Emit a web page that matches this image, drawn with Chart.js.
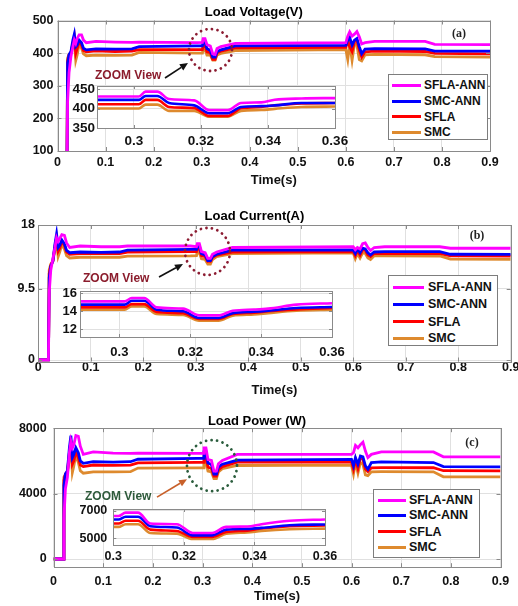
<!DOCTYPE html>
<html><head><meta charset="utf-8">
<script src="https://cdn.jsdelivr.net/npm/chart.js@4.4.1/dist/chart.umd.min.js"></script>
<style>
html,body{margin:0;padding:0;background:#fff;}
body{width:518px;height:606px;overflow:hidden;position:relative;font-family:"Liberation Sans",Arial,sans-serif;}
canvas{position:absolute;left:0;top:0;}
.lg{position:absolute;background:#fff;border:1px solid #7d7d7d;box-sizing:border-box;}
.lg .it{position:absolute;left:0;height:16px;line-height:16px;font-weight:bold;color:#111;white-space:nowrap;}
.lg .ln{position:absolute;height:3px;}
.zt{position:absolute;font-weight:bold;font-size:12px;height:14px;line-height:14px;white-space:nowrap;}
.pl{position:absolute;font-family:"Liberation Serif","Times New Roman",serif;font-weight:bold;font-size:12px;height:14px;line-height:14px;width:24px;text-align:center;color:#222;}
</style></head><body>
<canvas id="ma" width="560" height="606"></canvas>
<canvas id="mb" width="560" height="606"></canvas>
<canvas id="mc" width="560" height="606"></canvas>
<canvas id="ia" width="560" height="606"></canvas>
<canvas id="ib" width="560" height="606"></canvas>
<canvas id="ic" width="560" height="606"></canvas>
<div id="ovl"></div>
<script>
// ---------------- DATA ----------------
const SERIES = ['SFLA-ANN', 'SMC-ANN', 'SFLA', 'SMC'];
const COLORS = ['#ff00ff', '#0000ff', '#ff0000', '#de8a2e'];

const X_TICKS = [0, 0.1, 0.2, 0.3, 0.4, 0.5, 0.6, 0.7, 0.8, 0.9];
const X_TICK_LABELS = ['0', '0.1', '0.2', '0.3', '0.4', '0.5', '0.6', '0.7', '0.8', '0.9'];
const INSET_X_TICKS = [0.3, 0.32, 0.34, 0.36];
const INSET_X_LABELS = ['0.3', '0.32', '0.34', '0.36'];

// main time base (s)
const TIME = [0, 0.0195, 0.021, 0.024, 0.028, 0.032, 0.035, 0.038, 0.041, 0.045, 0.05, 0.054, 0.06, 0.08, 0.12, 0.155, 0.17, 0.29,
  0.3015, 0.303, 0.307, 0.311, 0.318, 0.323, 0.328, 0.332, 0.34, 0.37, 0.6, 0.604, 0.608, 0.613, 0.618, 0.623, 0.628, 0.633, 0.64, 0.66, 0.765, 0.785, 0.9];

// (a) Load Voltage (V)
const V_SFLA_ANN = [0, 0, 250, 340, 390, 420, 440, 430, 445, 456, 456, 440, 432, 436, 434, 433, 434, 432,
  433, 444, 444, 426, 422, 398, 396, 414, 420, 430, 432, 452, 465, 452, 458, 466, 450, 428, 432, 436, 436, 427, 426];
const V_SMC_ANN = [0, 0, 370, 395, 405, 440, 458, 420, 425, 440, 432, 415, 410, 413, 412, 413, 420, 422,
  422, 432, 432, 414, 408, 388, 388, 404, 410, 422, 424, 440, 448, 425, 440, 445, 420, 398, 412, 414, 413, 406, 406];
const V_SFLA = [0, 0, 375, 395, 402, 430, 450, 400, 415, 435, 425, 408, 404, 407, 405, 406, 411, 411,
  411, 422, 422, 404, 401, 381, 381, 401, 406, 416, 418, 438, 420, 405, 435, 440, 410, 388, 404, 406, 405, 399, 398];
const V_SMC = [0, 0, 385, 395, 400, 425, 440, 378, 395, 428, 415, 398, 392, 394, 393, 394, 402, 400,
  400, 410, 410, 394, 394, 379, 379, 394, 399, 408, 411, 380, 430, 378, 428, 425, 380, 376, 395, 396, 395, 389, 388];
const V_Y_TICKS = [100, 200, 300, 400, 500];
const V_Y_LABELS = ['100', '200', '300', '400', '500'];

// (b) Load Current (A)
const I_SFLA_ANN = [0, 0, 9, 12, 13.5, 15, 16.3, 15.8, 16.2, 16.7, 16.6, 15.6, 15.0, 15.2, 15.1, 15.1, 15.2, 15.2,
  15.1, 15.5, 15.5, 14.45, 14.3, 13.55, 13.55, 14.1, 14.4, 15.0, 15.1, 14.7, 15.0, 14.8, 15.5, 15.6, 15.0, 14.6, 15.0, 15.1, 15.1, 14.9, 14.9];
const I_SMC_ANN = [0, 0, 11, 12.5, 13.2, 15.5, 16.8, 15, 15.3, 16, 15.5, 14.6, 14.3, 14.4, 14.35, 14.4, 14.65, 14.74,
  14.74, 15.18, 15.18, 14.18, 14.0, 13.26, 13.26, 13.8, 14.1, 14.65, 14.67, 14.2, 14.8, 14.3, 14.9, 14.8, 14.3, 14.0, 14.4, 14.45, 14.44, 14.1, 14.08];
const I_SFLA = [0, 0, 11.5, 12.6, 13.2, 15.2, 16.3, 14.5, 14.9, 15.8, 15.3, 14.4, 14.1, 14.2, 14.2, 14.2, 14.4, 14.44,
  14.44, 14.8, 14.8, 13.93, 13.78, 13.15, 13.15, 13.7, 14.0, 14.4, 14.44, 13.9, 14.6, 14.0, 14.7, 14.6, 14.0, 13.8, 14.2, 14.2, 14.2, 13.9, 13.87];
const I_SMC = [0, 0, 12, 12.8, 13.2, 14.8, 15.9, 13.8, 14.4, 15.4, 14.8, 13.9, 13.6, 13.7, 13.7, 13.7, 13.85, 13.87,
  13.9, 14.3, 14.3, 13.5, 13.4, 12.8, 12.8, 13.4, 13.8, 14.2, 14.3, 13.5, 14.2, 13.6, 14.3, 14.2, 13.6, 13.4, 13.9, 13.9, 13.87, 13.45, 13.42];
const I_Y_TICKS = [0, 9.5, 18];
const I_Y_LABELS = ['0', '9.5', '18'];

// (c) Load Power (W)
const P_SFLA_ANN = [0, 0, 2500, 4300, 5000, 6500, 7200, 6800, 7000, 7550, 7500, 6900, 6400, 6550, 6480, 6460, 6480, 6460,
  6460, 6800, 6800, 6075, 6025, 5375, 5375, 5825, 6025, 6400, 6400, 6500, 6950, 6800, 7000, 7150, 6600, 6200, 6400, 6550, 6550, 6250, 6250];
const P_SMC_ANN = [0, 0, 4500, 5200, 5400, 6800, 7550, 6200, 6400, 6800, 6500, 6000, 5850, 5950, 5930, 5950, 6100, 6150,
  6150, 6550, 6550, 5875, 5775, 5200, 5200, 5625, 5800, 6050, 6090, 5700, 6200, 5800, 6300, 6250, 5700, 5500, 5900, 5940, 5900, 5650, 5640];
const P_SFLA = [0, 0, 4800, 5200, 5350, 6500, 7250, 5800, 6000, 6600, 6200, 5750, 5650, 5750, 5730, 5740, 5880, 5905,
  5905, 6250, 6250, 5625, 5525, 5075, 5075, 5450, 5650, 5920, 5940, 5500, 6100, 5550, 6200, 6100, 5500, 5350, 5580, 5590, 5580, 5400, 5390];
const P_SMC = [0, 0, 5000, 5150, 5250, 6200, 6950, 5300, 5700, 6350, 5900, 5400, 5250, 5330, 5330, 5340, 5560, 5575,
  5575, 5900, 5900, 5375, 5325, 4925, 4925, 5325, 5525, 5720, 5740, 5200, 5900, 5250, 5900, 5800, 5150, 5100, 5330, 5340, 5330, 5030, 5025];
const P_Y_TICKS = [0, 4000, 8000];
const P_Y_LABELS = ['0', '4000', '8000'];

// zoom insets (0.29 .. 0.36 s)
const TIME_ZOOM = [0.285, 0.3015, 0.3035, 0.307, 0.3105, 0.318, 0.3225, 0.328, 0.332, 0.338, 0.342, 0.35, 0.36];
const VZ_SFLA_ANN = [430.8, 430.8, 443.3, 443.3, 424.2, 420.8, 395.8, 395.8, 414.2, 415.8, 422.5, 425.8, 426.7];
const VZ_SMC_ANN = [422, 422, 432, 432, 414, 408, 388, 388, 404, 406, 408, 414, 414];
const VZ_SFLA = [411, 411, 422, 422, 404, 401, 381, 381, 401, 404, 408, 413, 414];
const VZ_SMC = [400, 400, 410, 410, 394, 394, 379, 379, 394, 396, 399, 404, 405];
const VZ_Y_TICKS = [350, 400, 450];
const VZ_Y_LABELS = ['350', '400', '450'];

const IZ_SFLA_ANN = [15.1, 15.1, 15.48, 15.48, 14.44, 14.3, 13.55, 13.55, 14.07, 14.2, 14.3, 14.74, 14.9];
const IZ_SMC_ANN = [14.74, 14.74, 15.18, 15.18, 14.18, 14.0, 13.26, 13.26, 13.8, 13.95, 14.07, 14.37, 14.48];
const IZ_SFLA = [14.44, 14.44, 14.8, 14.8, 13.93, 13.78, 13.15, 13.15, 13.7, 13.85, 14.0, 14.22, 14.37];
const IZ_SMC = [14.18, 14.18, 14.55, 14.55, 13.7, 13.6, 12.96, 12.96, 13.52, 13.65, 13.8, 14.07, 14.18];
const IZ_Y_TICKS = [12, 14, 16];
const IZ_Y_LABELS = ['12', '14', '16'];

const PZ_SFLA_ANN = [6625, 6625, 6875, 6875, 6075, 6025, 5375, 5375, 5825, 5850, 6025, 6275, 6375];
const PZ_SMC_ANN = [6375, 6375, 6575, 6575, 5875, 5775, 5200, 5200, 5625, 5680, 5750, 5950, 6000];
const PZ_SFLA = [6075, 6075, 6275, 6275, 5625, 5525, 5075, 5075, 5450, 5550, 5700, 5875, 5925];
const PZ_SMC = [5825, 5825, 6025, 6025, 5375, 5325, 4925, 4925, 5325, 5420, 5525, 5650, 5700];
const PZ_Y_TICKS = [5000, 7000];
const PZ_Y_LABELS = ['5000', '7000'];

// ---------------- RENDER ----------------
const CW = 560, CH = 606;
Chart.defaults.font.family = "'Liberation Sans', Arial, sans-serif";
Chart.defaults.color = '#111';

const bgPlugin = {
  id: 'bgArea',
  beforeDraw(chart) {
    const a = chart.chartArea, ctx = chart.ctx;
    ctx.save(); ctx.fillStyle = '#fff';
    ctx.fillRect(a.left, a.top, a.right - a.left, a.bottom - a.top);
    ctx.restore();
  }
};
const boxPlugin = {
  id: 'boxFrame',
  afterDatasetsDraw(chart, args, o) {
    const { ctx, chartArea: a, scales: { x, y } } = chart;
    const tl = o.tick || 4;
    ctx.save();
    ctx.strokeStyle = '#8a8a8a'; ctx.lineWidth = 1;
    ctx.beginPath();
    x.ticks.forEach(t => {
      const px = Math.round(x.getPixelForValue(t.value)) + 0.5;
      ctx.moveTo(px, a.bottom); ctx.lineTo(px, a.bottom - tl);
      ctx.moveTo(px, a.top); ctx.lineTo(px, a.top + tl);
    });
    y.ticks.forEach(t => {
      const py = Math.round(y.getPixelForValue(t.value)) + 0.5;
      ctx.moveTo(a.left, py); ctx.lineTo(a.left + tl, py);
      ctx.moveTo(a.right, py); ctx.lineTo(a.right - tl, py);
    });
    ctx.stroke();
    ctx.strokeRect(Math.round(a.left) + 0.5, Math.round(a.top) + 0.5, Math.round(a.right) - Math.round(a.left), Math.round(a.bottom) - Math.round(a.top));
    ctx.restore();
  }
};
const zoomPlugin = {
  id: 'zoomMark',
  afterDraw(chart, args, o) {
    if (!o || o.cx === undefined) return;
    const { ctx, scales: { x, y } } = chart;
    const cx = x.getPixelForValue(o.cx), cy = y.getPixelForValue(o.cy);
    ctx.save();
    ctx.strokeStyle = o.color; ctx.lineWidth = 2.8; ctx.setLineDash([0.01, 5.6]); ctx.lineCap = 'round';
    ctx.beginPath(); ctx.ellipse(cx, cy, o.rx, o.ry, 0, 0, Math.PI * 2); ctx.stroke();
    ctx.setLineDash([]); ctx.lineCap = 'butt';
    const x1 = x.getPixelForValue(o.ax1), y1 = y.getPixelForValue(o.ay1);
    const x2 = x.getPixelForValue(o.ax2), y2 = y.getPixelForValue(o.ay2);
    const ang = Math.atan2(y2 - y1, x2 - x1), hl = 8, hw = 3.6;
    const bx = x2 - hl * Math.cos(ang), by = y2 - hl * Math.sin(ang);
    ctx.strokeStyle = o.arrow; ctx.fillStyle = o.arrow; ctx.lineWidth = 1.7;
    ctx.beginPath(); ctx.moveTo(x1, y1); ctx.lineTo(bx, by); ctx.stroke();
    ctx.beginPath(); ctx.moveTo(x2, y2);
    ctx.lineTo(bx - hw * Math.sin(ang), by + hw * Math.cos(ang));
    ctx.lineTo(bx + hw * Math.sin(ang), by - hw * Math.cos(ang));
    ctx.closePath(); ctx.fill();
    ctx.restore();
  }
};

function makeChart(id, P) {
  const yW = 40;
  const xH = P.xH;
  const hasTitle = !!P.title;
  const padTop = hasTitle ? P.titleY - 6.5 : P.T;
  const datasets = SERIES.map((name, i) => ({
    label: name,
    data: P.time.map((t, k) => ({ x: t, y: P.vals[i][k] })),
    borderColor: COLORS[i], backgroundColor: COLORS[i],
    borderWidth: P.lw, pointRadius: 0, fill: false, tension: 0,
    cubicInterpolationMode: P.smooth ? 'monotone' : 'default',
    clip: 0
  }));
  return new Chart(document.getElementById(id), {
    type: 'line',
    data: { datasets },
    options: {
      responsive: false, animation: false, events: [],
      layout: { padding: { left: P.L - yW, right: CW - P.R, top: padTop, bottom: CH - P.B - xH } },
      plugins: {
        legend: { display: false }, tooltip: { enabled: false },
        title: {
          display: hasTitle, text: P.title || '', color: '#000',
          font: { size: 13, weight: 'bold', lineHeight: 1 },
          padding: { top: 0, bottom: hasTitle ? Math.max(0, P.T - P.titleY - 6.5) : 0 }
        },
        boxFrame: { tick: P.tick },
        zoomMark: P.mark || {}
      },
      scales: {
        x: {
          type: 'linear', min: P.xmin, max: P.xmax,
          afterBuildTicks: ax => { ax.ticks = P.xt.map(v => ({ value: v })); },
          afterFit: s => { s.height = xH; },
          ticks: { autoSkip: false, maxRotation: 0, padding: P.xpad, color: '#111',
            font: { size: P.fs, weight: 'bold' }, callback: (v, i) => P.xtl[i] },
          grid: { color: '#e0e0e0', drawTicks: false, lineWidth: 1 },
          border: { display: false },
          title: { display: !!P.xtitle, text: P.xtitle || '', color: '#111',
            font: { size: 13, weight: 'bold', lineHeight: 1 }, padding: { top: 0, bottom: 0 } }
        },
        y: {
          type: 'linear', min: P.ymin, max: P.ymax,
          afterBuildTicks: ax => { ax.ticks = P.yt.map(v => ({ value: v })); },
          afterFit: s => { s.width = yW; },
          ticks: { autoSkip: false, padding: P.ypad, color: '#111',
            font: { size: P.fs, weight: 'bold' }, callback: (v, i) => P.ytl[i] },
          grid: { color: '#e0e0e0', drawTicks: false, lineWidth: 1 },
          border: { display: false }
        }
      }
    },
    plugins: [bgPlugin, boxPlugin, zoomPlugin]
  });
}

// main (a)
makeChart('ma', {
  time: TIME, vals: [V_SFLA_ANN, V_SMC_ANN, V_SFLA, V_SMC],
  L: 57.5, T: 20.5, R: 490, B: 151, xH: 35.5, titleY: 12.7, title: 'Load Voltage(V)', xtitle: 'Time(s)',
  xmin: 0, xmax: 0.9, ymin: 100, ymax: 500, xt: X_TICKS, xtl: X_TICK_LABELS, yt: V_Y_TICKS, ytl: V_Y_LABELS,
  fs: 12.5, xpad: 4.5, ypad: 4, lw: 2.8, tick: 4,
  mark: { cx: 0.3184, cy: 409.6, rx: 21.5, ry: 21, color: '#8c1c32', ax1: 0.2237, ay1: 323.8, ax2: 0.2715, ay2: 369.7, arrow: '#111' }
});
// main (b)
makeChart('mb', {
  time: TIME, vals: [I_SFLA_ANN, I_SMC_ANN, I_SFLA, I_SMC],
  L: 38.2, T: 225, R: 510.7, B: 361.5, xH: 35.7, titleY: 216.7, title: 'Load Current(A)', xtitle: 'Time(s)',
  xmin: 0, xmax: 0.9, ymin: -0.2, ymax: 18, xt: X_TICKS, xtl: X_TICK_LABELS, yt: I_Y_TICKS, ytl: I_Y_LABELS,
  fs: 12.5, xpad: -1.5, ypad: 3.2, lw: 2.8, tick: 4,
  mark: { cx: 0.3225, cy: 14.47, rx: 22.5, ry: 23.5, color: '#8c1c32', ax1: 0.2301, ay1: 11.07, ax2: 0.2758, ay2: 12.8, arrow: '#111' }
});
// main (c)
makeChart('mc', {
  time: TIME, vals: [P_SFLA_ANN, P_SMC_ANN, P_SFLA, P_SMC],
  L: 53.5, T: 428, R: 500.5, B: 567.2, xH: 36, titleY: 421.7, title: 'Load Power (W)', xtitle: 'Time(s)',
  xmin: 0, xmax: 0.9, ymin: -500, ymax: 8000, xt: X_TICKS, xtl: X_TICK_LABELS, yt: P_Y_TICKS, ytl: P_Y_LABELS,
  fs: 12.5, xpad: 6.7, ypad: 6.8, lw: 2.8, tick: 4,
  mark: { cx: 0.3191, cy: 5710, rx: 25, ry: 25.5, color: '#2b5d3d', ax1: 0.2084, ay1: 3786, ax2: 0.2688, ay2: 4885, arrow: '#c8602a' }
});
// insets
makeChart('ia', {
  time: TIME_ZOOM, vals: [VZ_SFLA_ANN, VZ_SMC_ANN, VZ_SFLA, VZ_SMC], smooth: true,
  L: 97, T: 86, R: 335, B: 128, xH: 30,
  xmin: 0.289, xmax: 0.36, ymin: 350, ymax: 457.7, xt: INSET_X_TICKS, xtl: INSET_X_LABELS, yt: VZ_Y_TICKS, ytl: VZ_Y_LABELS,
  fs: 13.5, xpad: 4.9, ypad: 2, lw: 2.6, tick: 3
});
makeChart('ib', {
  time: TIME_ZOOM, vals: [IZ_SFLA_ANN, IZ_SMC_ANN, IZ_SFLA, IZ_SMC], smooth: true,
  L: 80, T: 291, R: 332, B: 337, xH: 30,
  xmin: 0.2889, xmax: 0.36, ymin: 11.14, ymax: 16.26, xt: INSET_X_TICKS, xtl: INSET_X_LABELS, yt: IZ_Y_TICKS, ytl: IZ_Y_LABELS,
  fs: 13, xpad: 7.2, ypad: 3, lw: 2.6, tick: 3
});
makeChart('ic', {
  time: TIME_ZOOM, vals: [PZ_SFLA_ANN, PZ_SMC_ANN, PZ_SFLA, PZ_SMC], smooth: true,
  L: 113.3, T: 509, R: 325, B: 545, xH: 30,
  xmin: 0.3, xmax: 0.36, ymin: 4487, ymax: 7146, xt: INSET_X_TICKS, xtl: INSET_X_LABELS, yt: PZ_Y_TICKS, ytl: PZ_Y_LABELS,
  fs: 12.5, xpad: 4.5, ypad: 6, lw: 2.6, tick: 3
});

// ---------------- OVERLAYS (legends, labels) ----------------
const ovl = document.getElementById('ovl');
function legend(box, rows, lineX0, lineX1, textX, fs) {
  const d = document.createElement('div');
  d.className = 'lg';
  d.style.left = box[0] + 'px'; d.style.top = box[1] + 'px';
  d.style.width = box[2] + 'px'; d.style.height = box[3] + 'px';
  SERIES.forEach((name, i) => {
    const ln = document.createElement('div');
    ln.className = 'ln';
    ln.style.left = lineX0 + 'px'; ln.style.width = (lineX1 - lineX0) + 'px';
    ln.style.top = (rows[i] - 1.5) + 'px'; ln.style.background = COLORS[i];
    d.appendChild(ln);
    const t = document.createElement('div');
    t.className = 'it';
    t.style.left = textX + 'px'; t.style.top = (rows[i] - 8) + 'px'; t.style.fontSize = fs + 'px';
    t.textContent = name;
    d.appendChild(t);
  });
  ovl.appendChild(d);
}
legend([388, 74, 100, 66], [10, 26, 41.7, 57], 3, 32, 35, 12);
legend([388, 275, 110, 71], [11, 28.3, 45.7, 62.3], 4, 35, 39, 12.5);
legend([373, 489, 107, 69], [10.3, 25, 41.7, 57], 4, 32, 35, 12.5);

function txt(cls, s, x, yc, color) {
  const d = document.createElement('div');
  d.className = cls; d.textContent = s;
  d.style.left = x + 'px'; d.style.top = (yc - 7) + 'px';
  if (color) d.style.color = color;
  ovl.appendChild(d);
}
txt('zt', 'ZOOM View', 95, 75, '#8b1c2c');
txt('zt', 'ZOOM View', 83, 278, '#8b1c2c');
txt('zt', 'ZOOM View', 85, 496, '#2e5a3b');
txt('pl', '(a)', 459 - 12, 33.3);
txt('pl', '(b)', 477 - 12, 235);
txt('pl', '(c)', 472 - 12, 441.7);
</script>
</body></html>
